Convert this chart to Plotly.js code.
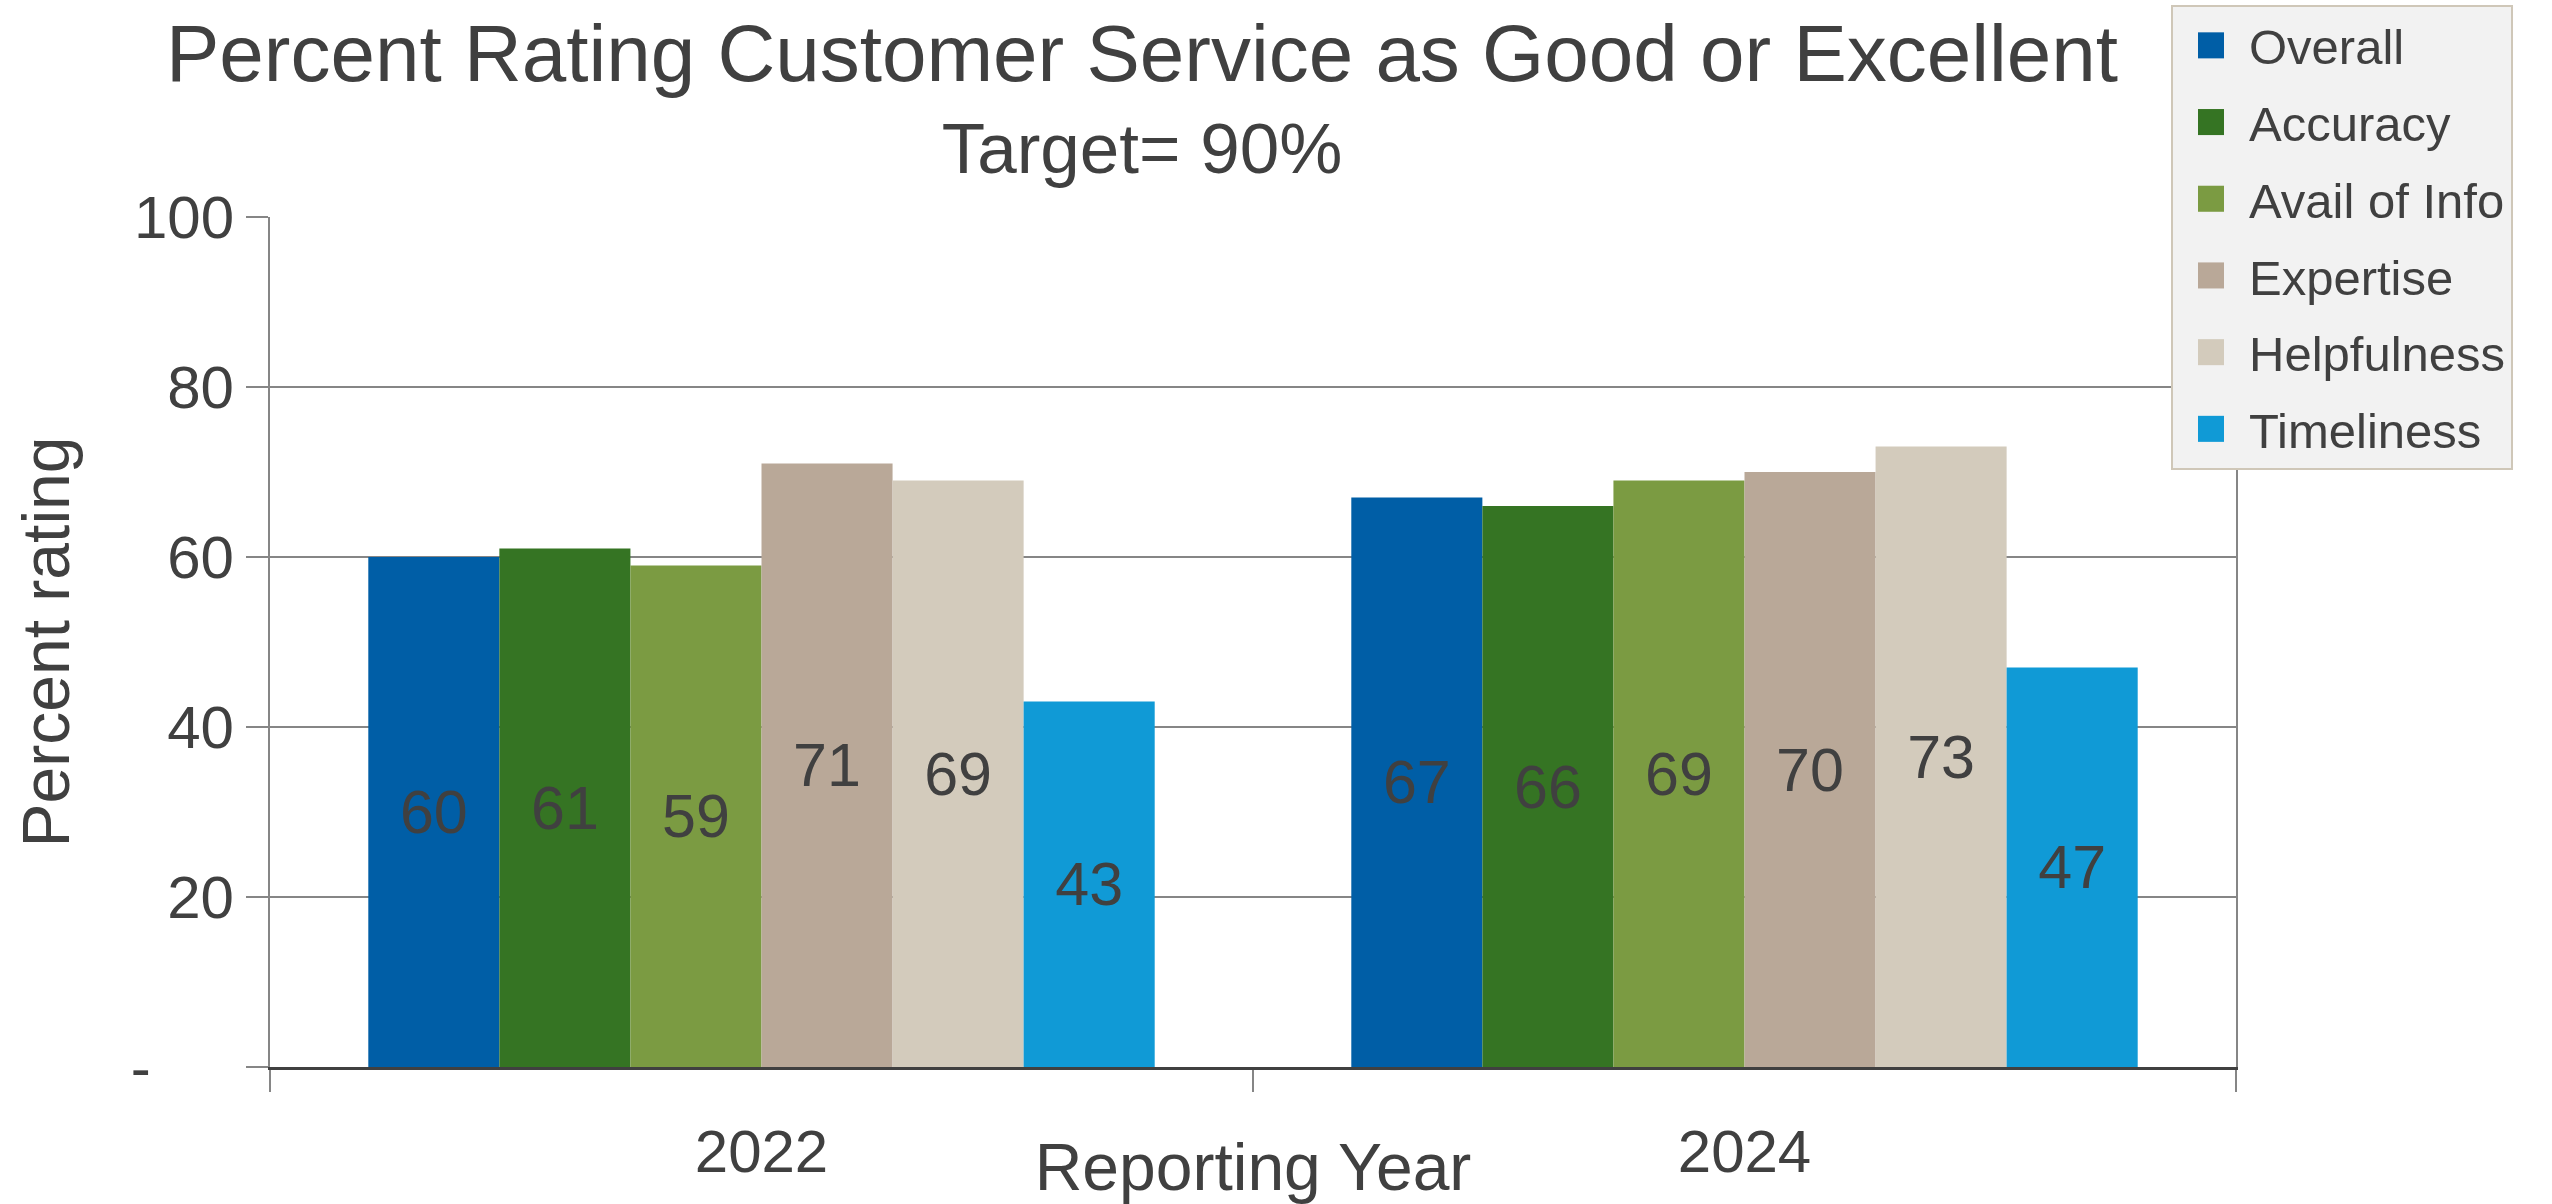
<!DOCTYPE html>
<html><head><meta charset="utf-8">
<script src="https://cdn.plot.ly/plotly-3.0.1.min.js"></script>
<style>html,body{margin:0;padding:0;background:#fff;}#chart{width:2552px;height:1204px;}</style>
</head><body><div id="chart"></div>
<script>
const years = ['2022', '2024'];
const seriesNames = ['Overall', 'Accuracy', 'Avail of Info', 'Expertise', 'Helpfulness', 'Timeliness'];
const overall = [60, 67];
const accuracy = [61, 66];
const availOfInfo = [59, 69];
const expertise = [71, 70];
const helpfulness = [69, 73];
const timeliness = [43, 47];
const yTickValues = [0, 20, 40, 60, 80, 100];
const yTickLabels = ['-\u00a0\u00a0\u00a0\u00a0\u00a0', '20', '40', '60', '80', '100'];
const chartTitle = 'Percent Rating Customer Service as Good or Excellent';
const chartSubtitle = 'Target= 90%';
const xTitle = 'Reporting Year';
const yTitle = 'Percent rating';

const seriesValues = [overall, accuracy, availOfInfo, expertise, helpfulness, timeliness];
const colors = ['#005EA6', '#357423', '#7B9B42', '#B9A898', '#D3CBBC', '#109AD6'];
const FONT = '"Liberation Sans", Arial, "DejaVu Sans", sans-serif';
const TXT = '#404040';

const data = seriesNames.map((name, i) => ({
  type: 'bar',
  name: name,
  legendgroup: name,
  x: years,
  y: seriesValues[i],
  text: seriesValues[i].map(String),
  textposition: 'inside',
  insidetextanchor: 'middle',
  textangle: 0,
  constraintext: 'none',
  textfont: {family: FONT, size: 61, color: TXT},
  marker: {color: colors[i], line: {width: 0}},
  hoverinfo: 'x+y+name'
}));

const layout = {
  width: 2552, height: 1204,
  margin: {l: 270, r: 316, t: 217, b: 137, autoexpand: false},
  paper_bgcolor: '#ffffff', plot_bgcolor: '#ffffff',
  font: {family: FONT, color: TXT},
  barmode: 'group', bargap: 0.2, bargroupgap: 0,
  title: {
    text: '<span style="font-size:80px">' + chartTitle + '</span><br>' + chartSubtitle,
    font: {family: FONT, size: 71, color: TXT},
    xref: 'container', x: 1142 / 2552, xanchor: 'center',
    yref: 'container', y: 1 - 81 / 1204, yanchor: 'top'
  },
  xaxis: {
    type: 'category',
    showline: true, linecolor: TXT, linewidth: 3,
    ticks: 'outside', tickson: 'boundaries', ticklen: 22, tickwidth: 2, tickcolor: '#868686',
    tickfont: {family: FONT, size: 60, color: TXT},
    ticklabelstandoff: 30,
    showgrid: false, zeroline: false,
    title: {text: xTitle, font: {family: FONT, size: 66, color: TXT}, standoff: 0}
  },
  yaxis: {
    range: [0, 100],
    tickmode: 'array', tickvals: yTickValues, ticktext: yTickLabels,
    ticks: 'outside', ticklen: 22, tickwidth: 2, tickcolor: '#868686',
    tickfont: {family: FONT, size: 60, color: TXT},
    showline: true, mirror: true, linecolor: '#868686', linewidth: 2,
    showgrid: true, gridcolor: '#868686', gridwidth: 2,
    zeroline: false,
    title: {text: yTitle, font: {family: FONT, size: 66, color: TXT}, standoff: 40}
  },
  legend: {
    xref: 'container', x: 2171 / 2552, xanchor: 'left',
    yref: 'container', y: 1 - 5 / 1204, yanchor: 'top',
    bgcolor: '#F2F2F2', bordercolor: '#CFC7B8', borderwidth: 2,
    font: {family: FONT, size: 49, color: TXT},
    itemwidth: 66, tracegroupgap: 10
  },
  showlegend: true
};

Plotly.newPlot('chart', data, layout, {displayModeBar: false}).then(gd => {
  gd.querySelectorAll('.legend .legendpoints path').forEach(p => {
    const t = p.getAttribute('transform') || '';
    p.setAttribute('transform', t + ' scale(2.17)');
  });
  const xt = gd.querySelector('.g-xtitle text');
  if (xt) {
    const r = xt.getBoundingClientRect();
    const gr = gd.getBoundingClientRect();
    const dy = 1167 - ((r.top - gr.top) + r.height / 2);
    xt.setAttribute('y', parseFloat(xt.getAttribute('y')) + dy);
  }
});
</script>
</body></html>
